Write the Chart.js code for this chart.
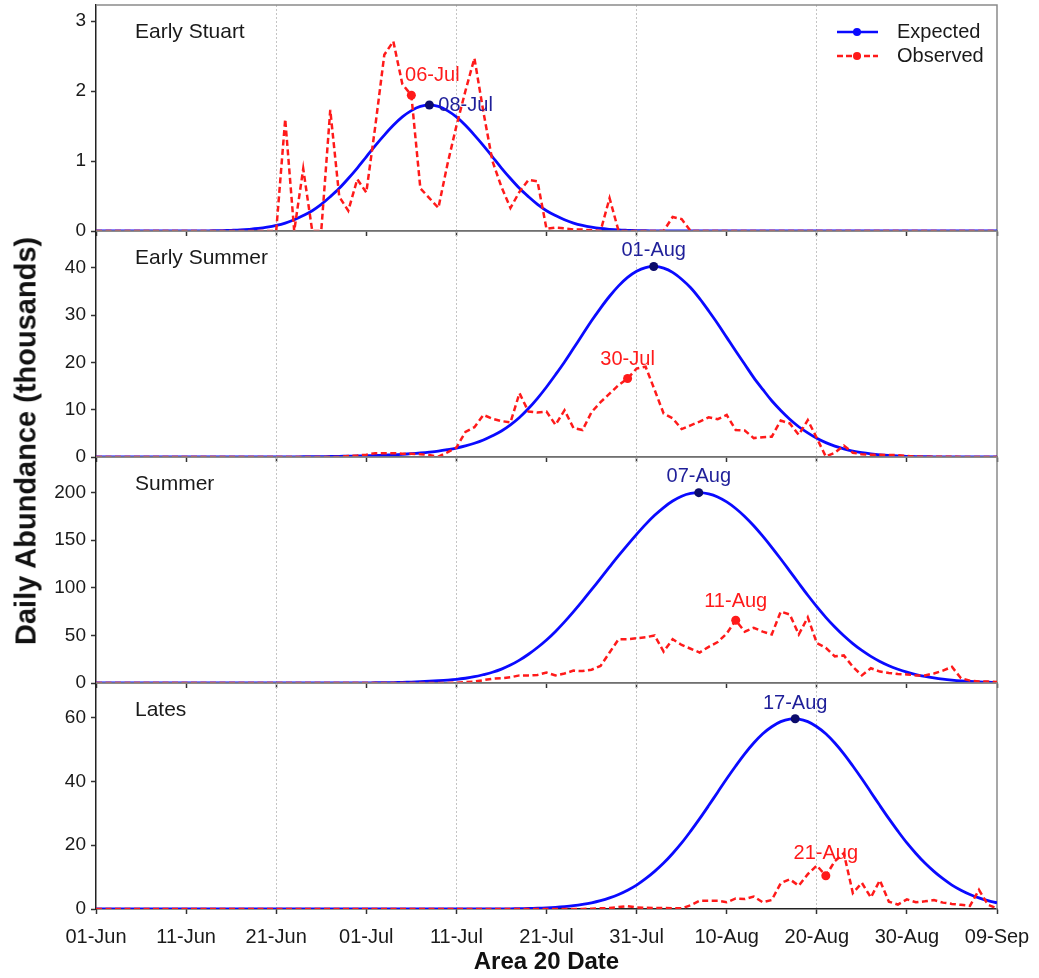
<!DOCTYPE html>
<html>
<head>
<meta charset="utf-8">
<title>Daily abundance by run timing group</title>
<script src="https://cdn.jsdelivr.net/npm/chart.js@4.4.1/dist/chart.umd.min.js"></script>
<style>
  body { margin: 0; background: #fff; }
  #wrap { position: relative; width: 1039px; height: 978px; overflow: hidden; background: #fff; }
  #wrap canvas { position: absolute; left: 0; }
  #yTitle {
    position: absolute; left: 26px; top: 441px;
    transform: translate(-50%, -50%) rotate(-90deg);
    font: bold 29px 'Liberation Sans', Arial, sans-serif;
    color: #111; white-space: nowrap;
  }
</style>
</head>
<body>
<div id="wrap">
  <canvas id="panel0" width="1039" height="237" style="top:0px"></canvas>
  <canvas id="panel1" width="1039" height="237" style="top:226px"></canvas>
  <canvas id="panel2" width="1039" height="237" style="top:452px"></canvas>
  <canvas id="panel3" width="1039" height="300" style="top:678px"></canvas>
  <div id="yTitle">Daily Abundance (thousands)</div>
</div>
<script>
// day 0 = 01-Jun ... day 100 = 09-Sep
const panelNames = ['Early Stuart', 'Early Summer', 'Summer', 'Lates'];
const xTickLabels = ['01-Jun', '11-Jun', '21-Jun', '01-Jul', '11-Jul', '21-Jul', '31-Jul', '10-Aug', '20-Aug', '30-Aug', '09-Sep'];
const yMaxes = [3.23, 47.8, 237.5, 70.8];
const yStepSizes = [1, 10, 50, 20];

const expectedEarlyStuart = [
  0, 0, 0, 0, 0, 0, 0, 0, 0, 0, 0, 0,
  0.002, 0.004, 0.006, 0.01, 0.015, 0.024, 0.036, 0.054, 0.079, 0.113,
  0.16, 0.22, 0.29, 0.38, 0.49, 0.61, 0.75, 0.9, 1.06, 1.22,
  1.37, 1.51, 1.63, 1.72, 1.78, 1.8, 1.78, 1.72, 1.63, 1.51,
  1.37, 1.22, 1.06, 0.9, 0.75, 0.61, 0.49, 0.38, 0.29, 0.22,
  0.16, 0.113, 0.079, 0.054, 0.036, 0.024, 0.015, 0.01, 0.006, 0.004, 0.002,
  0, 0, 0, 0, 0, 0, 0, 0, 0, 0, 0, 0, 0, 0, 0, 0, 0, 0, 0,
  0, 0, 0, 0, 0, 0, 0, 0, 0, 0, 0, 0, 0, 0, 0, 0, 0, 0, 0
];
const observedEarlyStuart = [
  0, 0, 0, 0, 0, 0, 0, 0, 0, 0, 0, 0, 0, 0, 0, 0, 0, 0, 0, 0, 0,
  1.6, 0, 0.89, 0, 0, 1.73, 0.49, 0.29, 0.74, 0.55,
  1.5, 2.52, 2.71, 2.1, 1.94, 0.61, 0.47, 0.33, 0.95, 1.5,
  2.0, 2.47, 1.7, 1.0, 0.63, 0.33, 0.56, 0.73, 0.71, 0.03,
  0.05, 0.04, 0.02, 0.02, 0.01, 0, 0.47, 0, 0, 0,
  0, 0, 0, 0.2, 0.17,
  0, 0, 0, 0, 0, 0, 0, 0, 0, 0, 0, 0, 0, 0, 0, 0, 0, 0,
  0, 0, 0, 0, 0, 0, 0, 0, 0, 0, 0, 0, 0, 0, 0, 0, 0
];

const expectedEarlySummer = [
  0, 0, 0, 0, 0, 0, 0, 0, 0, 0, 0, 0, 0, 0, 0, 0, 0, 0, 0, 0,
  0.02, 0.03, 0.04, 0.05, 0.07, 0.09, 0.11, 0.14, 0.17, 0.21,
  0.26, 0.32, 0.39, 0.47, 0.57, 0.7, 0.85, 1.03, 1.25, 1.55,
  1.9, 2.35, 2.9, 3.6, 4.5, 5.5, 6.8, 8.36, 10.25, 12.4,
  14.8, 17.4, 20.1, 23.0, 25.9, 28.8, 31.5, 34.0, 36.2, 38.0,
  39.3, 40.07, 40.3, 39.96, 39.06, 37.6, 35.8, 33.5, 30.9, 28.2,
  25.3, 22.4, 19.6, 16.8, 14.3, 11.9, 9.85, 8.0, 6.4, 5.1,
  3.96, 3.04, 2.3, 1.72, 1.26, 0.92, 0.66, 0.46, 0.32, 0.22,
  0.15, 0.1, 0.066, 0.04, 0.027, 0.017, 0.01, 0.006, 0.004, 0.002, 0.001
];
const observedEarlySummer = [
  0, 0, 0, 0, 0, 0, 0, 0, 0, 0, 0, 0, 0, 0, 0, 0, 0, 0, 0, 0,
  0, 0, 0, 0, 0, 0, 0, 0,
  0.2, 0.3, 0.5, 0.8, 0.8, 0.8, 0.7, 0.7, 0.6, 0.4, 0.1, 1.0,
  2.0, 5.3, 6.3, 8.9, 8.1, 7.6, 7.3, 13.5, 9.6, 9.4,
  9.6, 6.8, 9.9, 6.1, 5.7, 9.5, 11.6, 13.4, 15.2, 16.6,
  18.7, 19.1, 14.2, 9.2, 8.2, 5.9, 6.7, 7.5, 8.4, 8.0,
  8.9, 5.7, 5.6, 4.0, 4.2, 4.3, 7.7, 7.1, 4.7, 7.8,
  4.0, 0.1, 0.9, 2.4, 0.9, 0.6, 0.5, 0.5, 0.4, 0.4,
  0.2, 0.1, 0.05, 0.05, 0.05, 0.05, 0, 0, 0, 0, 0
];

const expectedSummer = [
  0, 0, 0, 0, 0, 0, 0, 0, 0, 0, 0, 0, 0, 0, 0, 0, 0, 0, 0, 0, 0, 0, 0, 0, 0,
  0.02, 0.03, 0.05, 0.08, 0.12, 0.17, 0.24, 0.34, 0.47, 0.7,
  1.0, 1.39, 1.9, 2.4, 3.0, 3.8, 5.0, 6.6, 8.8, 11.3,
  14.6, 18.8, 24.0, 30.2, 37.3, 45.2, 54.2, 64.2, 75.0, 86.3,
  98.0, 110, 122, 133.8, 145.2, 156.2, 166.7, 176.2, 184.4, 191.2,
  196.3, 199.2, 200, 198.7, 195.5, 190.3, 183.4, 175.0, 165.2, 154.3,
  142.6, 130.3, 117.6, 104.8, 92.2, 80.2, 69.0, 58.8, 49.6, 41.4,
  34.2, 28.0, 22.7, 18.2, 14.5, 11.4, 8.9, 6.9, 5.3, 4.0,
  3.0, 2.2, 1.6, 1.15, 0.8, 0.55
];
const observedSummer = [
  0, 0, 0, 0, 0, 0, 0, 0, 0, 0, 0, 0, 0, 0, 0, 0, 0, 0, 0, 0,
  0, 0, 0, 0, 0, 0, 0, 0, 0, 0, 0, 0, 0, 0, 0, 0, 0, 0, 0, 0,
  0.3, 1, 1.5, 3, 4.5, 5, 6, 8, 8, 8.5,
  11, 8, 10, 13, 12.5, 14, 18, 32, 46, 46,
  47, 48, 50, 33, 46, 40, 36, 32, 38, 43,
  52, 66, 54, 58, 54, 51, 75, 72, 51, 69,
  42, 37, 28, 29, 17, 8, 15.5, 12, 10.5, 9.5,
  9, 8, 8, 10, 13, 17, 5, 2.5, 1.5, 1.5, 1
];

const expectedLates = [
  0, 0, 0, 0, 0, 0, 0, 0, 0, 0, 0, 0, 0, 0, 0, 0, 0, 0, 0, 0, 0, 0, 0,
  0, 0, 0, 0, 0, 0, 0, 0, 0, 0, 0, 0, 0, 0, 0, 0, 0, 0, 0, 0, 0, 0,
  0.05, 0.07, 0.11, 0.17, 0.25, 0.36, 0.52, 0.74, 1.03, 1.43,
  1.95, 2.63, 3.49, 4.56, 5.9, 7.5, 9.5, 11.8, 14.4, 17.4,
  20.7, 24.4, 28.3, 32.4, 36.6, 40.8, 44.8, 48.6, 52.0, 54.9,
  57.1, 58.7, 59.5, 59.5, 58.7, 57.1, 54.9, 52.0, 48.6, 44.8,
  40.8, 36.6, 32.4, 28.3, 24.4, 20.7, 17.4, 14.4, 11.8, 9.5,
  7.5, 5.9, 4.56, 3.49, 2.63, 1.95
];
const observedLates = [
  0, 0, 0, 0, 0, 0, 0, 0, 0, 0, 0, 0, 0, 0, 0, 0, 0, 0, 0, 0,
  0, 0, 0, 0, 0, 0, 0, 0, 0, 0, 0, 0, 0, 0, 0, 0, 0, 0, 0, 0,
  0, 0, 0, 0, 0, 0, 0, 0, 0, 0, 0, 0, 0, 0, 0,
  0.1, 0.2, 0.3, 0.6, 0.9, 0.5, 0.4, 0.3, 0.3, 0.2,
  0.2, 1.2, 2.6, 2.6, 2.6, 2.1, 3.3, 3.1, 3.9, 2.1,
  2.8, 8.1, 9.3, 7.3, 10.9, 13.6, 10.4, 15, 17.5, 5,
  8.2, 3.6, 9.0, 2.3, 1.4, 3.0, 2.1, 2.4, 2.8, 2.0,
  1.6, 1.3, 1.0, 6.0, 1.3, 0.2
];

const expectedPeakDays = [37, 61.9, 66.9, 77.6];
const expectedPeakValues = [1.8, 40.3, 200, 59.6];
const expectedPeakLabels = ['08-Jul', '01-Aug', '07-Aug', '17-Aug'];
const observedPeakDays = [35, 59, 71, 81];
const observedPeakValues = [1.94, 16.6, 66, 10.4];
const observedPeakLabels = ['06-Jul', '30-Jul', '11-Aug', '21-Aug'];

const FONT = "'Liberation Sans', Arial, Helvetica, sans-serif";
const BLUE = '#0a0aff';
const RED = '#ff1a1a';
const NAVY = '#0b0b6b';

Chart.defaults.font.family = FONT;
Chart.defaults.color = '#1a1a1a';

const days = expectedEarlyStuart.map((v, i) => i);

function toPoints(values) {
    return values.map((v, i) => ({ x: days[i], y: v }));
}

// [dx, dy, align] of the peak labels, relative to their marker
const expLabelPlacement = [[9, 0, 'left'], [0, -16, 'center'], [0, -16, 'center'], [0, -15, 'center']];
const obsLabelPlacement = [[21, -20, 'center'], [0, -19, 'center'], [0, -19, 'center'], [0, -22, 'center']];

const panelDecor = {
    id: 'panelDecor',
    beforeDatasetsDraw(chart) {
        const { ctx, chartArea: a } = chart;
        ctx.save();
        ctx.strokeStyle = '#8a8a8a';
        ctx.lineWidth = 1.5;
        ctx.beginPath();
        ctx.moveTo(a.left, a.top);
        ctx.lineTo(a.right, a.top);
        ctx.lineTo(a.right, a.bottom);
        ctx.stroke();
        ctx.restore();
    },
    afterDatasetsDraw(chart, args, opts) {
        const { ctx, chartArea: a } = chart;
        ctx.save();
        ctx.textBaseline = 'middle';

        ctx.font = '21px ' + FONT;
        ctx.fillStyle = '#1a1a1a';
        ctx.textAlign = 'left';
        ctx.fillText(opts.name, a.left + 39, a.top + 27);

        ctx.font = '20px ' + FONT;
        const expPt = chart.getDatasetMeta(0).data[0];
        const obsPt = chart.getDatasetMeta(1).data[0];
        const ep = opts.expPlace, op = opts.obsPlace;
        ctx.fillStyle = '#1f1f99';
        ctx.textAlign = ep[2];
        ctx.fillText(opts.expLabel, expPt.x + ep[0], expPt.y + ep[1]);
        ctx.fillStyle = RED;
        ctx.textAlign = op[2];
        ctx.fillText(opts.obsLabel, obsPt.x + op[0], obsPt.y + op[1]);

        if (opts.legend) {
            const x0 = a.right - 160;
            const rows = [['Expected', BLUE, [], a.top + 27], ['Observed', RED, [6, 3], a.top + 51]];
            rows.forEach(([text, color, dash, y]) => {
                ctx.strokeStyle = color;
                ctx.lineWidth = 2.5;
                ctx.setLineDash(dash);
                ctx.beginPath();
                ctx.moveTo(x0, y);
                ctx.lineTo(x0 + 41, y);
                ctx.stroke();
                ctx.setLineDash([]);
                ctx.fillStyle = color;
                ctx.beginPath();
                ctx.arc(x0 + 20, y, 4, 0, Math.PI * 2);
                ctx.fill();
                ctx.fillStyle = '#1a1a1a';
                ctx.textAlign = 'left';
                ctx.fillText(text, x0 + 60, y);
            });
        }
        ctx.restore();
    }
};

function buildPanel(idx, expected, observed) {
    const isLast = idx === 3;
    const canvas = document.getElementById('panel' + idx);
    return new Chart(canvas, {
        type: 'line',
        data: {
            datasets: [
                {
                    label: 'Expected peak',
                    data: [{ x: expectedPeakDays[idx], y: expectedPeakValues[idx] }],
                    showLine: false, pointRadius: 4.5, pointBorderWidth: 0,
                    pointBackgroundColor: NAVY, order: 0
                },
                {
                    label: 'Observed peak',
                    data: [{ x: observedPeakDays[idx], y: observedPeakValues[idx] }],
                    showLine: false, pointRadius: 4.5, pointBorderWidth: 0,
                    pointBackgroundColor: RED, order: 0
                },
                {
                    label: 'Observed',
                    data: toPoints(observed),
                    borderColor: RED, borderWidth: 2.5, borderDash: [6, 3.5],
                    pointRadius: 0, tension: 0, order: 1
                },
                {
                    label: 'Expected',
                    data: toPoints(expected),
                    borderColor: BLUE, borderWidth: 2.8,
                    pointRadius: 0, tension: 0.35, order: 2
                }
            ]
        },
        options: {
            responsive: false,
            animation: false,
            events: [],
            layout: { padding: { top: 5, right: 42, left: 0, bottom: 0 } },
            plugins: {
                legend: { display: false },
                tooltip: { enabled: false },
                panelDecor: {
                    name: panelNames[idx],
                    legend: idx === 0,
                    expLabel: expectedPeakLabels[idx],
                    obsLabel: observedPeakLabels[idx],
                    expPlace: expLabelPlacement[idx],
                    obsPlace: obsLabelPlacement[idx]
                }
            },
            scales: {
                x: {
                    type: 'linear',
                    min: 0,
                    max: 100,
                    afterFit: s => {
                        s.height = isLast ? 69 : 6;
                        s.paddingLeft = 0;
                        s.paddingRight = 0;
                    },
                    ticks: {
                        stepSize: 10,
                        display: isLast,
                        autoSkip: false,
                        maxRotation: 0,
                        padding: 11,
                        font: { size: 20 },
                        color: '#1a1a1a',
                        callback: v => xTickLabels[Math.round(v / 10)]
                    },
                    grid: {
                        color: c => (c.tick && c.tick.value % 20 === 0 && c.tick.value > 0 && c.tick.value < 100) ? '#c4c4c4' : 'rgba(0,0,0,0)',
                        lineWidth: 1,
                        tickLength: 5,
                        tickColor: '#333',
                        tickWidth: 1.5
                    },
                    border: { color: '#222', width: 1.5, dash: [2, 2] },
                    title: {
                        display: isLast,
                        text: 'Area 20 Date',
                        font: { size: 24, weight: 'bold' },
                        color: '#111',
                        padding: { top: 0, bottom: 1 }
                    }
                },
                y: {
                    min: 0,
                    max: yMaxes[idx],
                    afterFit: s => {
                        s.width = 96;
                        s.paddingTop = 0;
                        s.paddingBottom = 0;
                    },
                    ticks: {
                        stepSize: yStepSizes[idx],
                        includeBounds: false,
                        padding: 5,
                        font: { size: 19 },
                        color: '#1a1a1a'
                    },
                    grid: { drawOnChartArea: false, tickLength: 5, tickColor: '#333', tickWidth: 1.5 },
                    border: { color: '#222', width: 1.5 }
                }
            }
        },
        plugins: [panelDecor]
    });
}

buildPanel(0, expectedEarlyStuart, observedEarlyStuart);
buildPanel(1, expectedEarlySummer, observedEarlySummer);
buildPanel(2, expectedSummer, observedSummer);
buildPanel(3, expectedLates, observedLates);
</script>
</body>
</html>
